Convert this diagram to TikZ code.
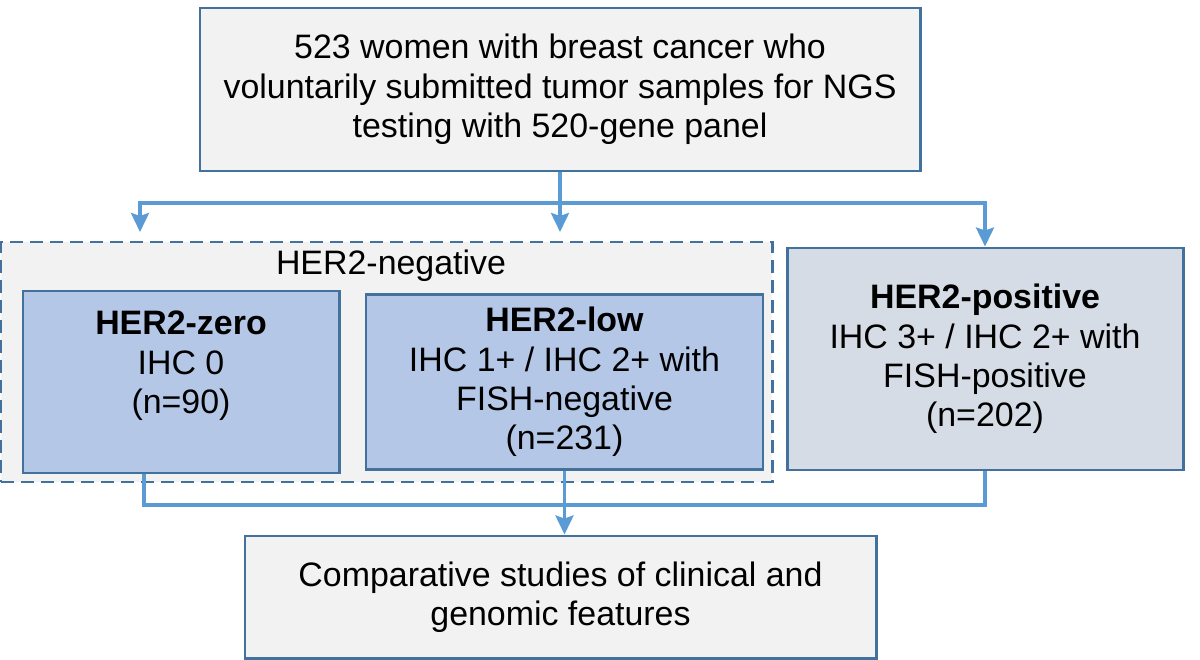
\documentclass[tikz,border=0pt]{standalone}
\usepackage{fontspec}
\setmainfont{Liberation Sans}
\usetikzlibrary{positioning,arrows.meta,calc}
\definecolor{cedge}{HTML}{41719C}
\definecolor{cline}{HTML}{5B9BD5}
\definecolor{cgrey}{HTML}{F2F2F2}
\definecolor{clow}{HTML}{B4C7E7}
\definecolor{cpos}{HTML}{D6DCE5}
\tikzset{
  txt/.style={font=\fontsize{19.3}{22.4}\selectfont, align=center},
  box/.style={rectangle, draw=cedge, fill=cgrey, line width=1.7pt, inner sep=0pt, txt},
  subbox/.style={box, fill=clow},
  posbox/.style={box, fill=cpos},
  group/.style={rectangle, draw=cedge, fill=cgrey, line width=1.7pt,
                dash pattern=on 0.26cm off 0.14cm},
  link/.style={draw=cline, line width=2pt},
  flow/.style={link, -{Stealth[length=0.38cm, width=0.36cm, inset=0.06cm]}}
}
\begin{document}
\begin{tikzpicture}[node distance=0.48cm]
\useasboundingbox (0,0) rectangle (24,-13.2);
\node[box, minimum width=14.4cm, minimum height=3.26cm] (top) at (11.2,-1.79)
  {523 women with breast cancer who\\voluntarily submitted tumor samples for NGS\\testing with 520-gene panel};
\node[group, minimum width=15.42cm, minimum height=4.8cm] (neg) at (7.73,-7.24) {};
\node[txt] (negtitle) at (7.82,-5.32) {HER2-negative};
\node[subbox, minimum width=6.32cm, minimum height=3.64cm] (zero) at (3.62,-7.64)
  {\textbf{HER2-zero}\\IHC 0\\(n=90)\\\mbox{}};
\node[subbox, minimum width=7.94cm, minimum height=3.5cm, right=of zero] (low)
  {\textbf{HER2-low}\\IHC 1+ / IHC 2+ with\\FISH-negative\\(n=231)};
\node[posbox, minimum width=7.92cm, minimum height=4.44cm] (pos) at (19.7,-7.18)
  {\textbf{HER2-positive}\\IHC 3+ / IHC 2+ with\\FISH-positive\\(n=202)};
\node[box, minimum width=12.62cm, minimum height=2.44cm] (bot) at (11.21,-11.94)
  {Comparative studies of clinical and\\genomic features};
% split and merge points
\coordinate (split) at (11.2,-4.06);
\coordinate (tipL) at (2.8,-4.64);
\coordinate (tipC) at (11.2,-4.64);
\coordinate (merge) at (11.3,-10.1);
\draw[link] (top.south) -- (split);
\draw[flow] (split) -- (tipC);
\draw[flow] (split) -| (tipL);
\draw[flow] (split) -| (pos.north);
\draw[link] ([xshift=-0.74cm]zero.south) |- (merge) -| (pos.south);
\draw[flow] (low.south) -- (low.south |- bot.north);
\end{tikzpicture}
\end{document}
